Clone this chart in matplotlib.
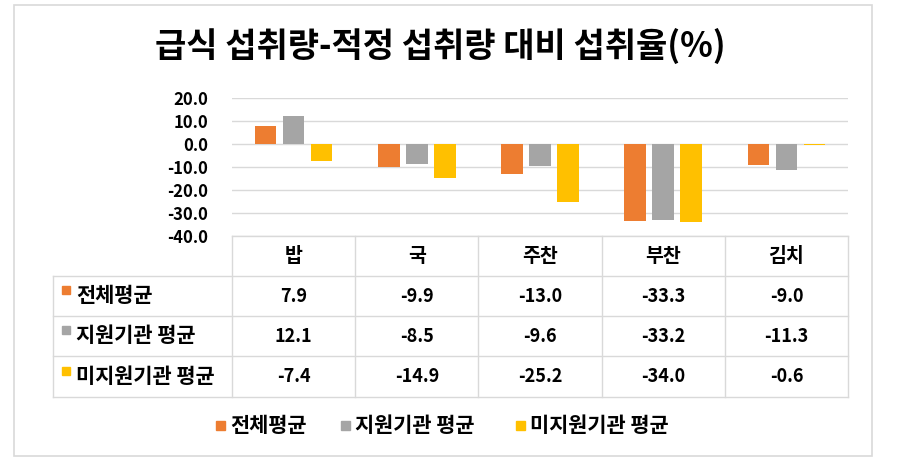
import matplotlib.pyplot as plt
from matplotlib.patches import Rectangle
from matplotlib.lines import Line2D
import numpy as np

plt.rcParams['font.family'] = ['Noto Sans CJK KR', 'DejaVu Sans']

# 데이터
title = "급식 섭취량-적정 섭취량 대비 섭취율(%)"
categories = ["밥", "국", "주찬", "부찬", "김치"]
series_names = ["전체평균", "지원기관 평균", "미지원기관 평균"]
total_avg = [7.9, -9.9, -13.0, -33.3, -9.0]
support_avg = [12.1, -8.5, -9.6, -33.2, -11.3]
nonsupport_avg = [-7.4, -14.9, -25.2, -34.0, -0.6]
colors = ["#ED7D31", "#A5A5A5", "#FFC000"]
yticks = [20, 10, 0, -10, -20, -30, -40]

series = [total_avg, support_avg, nonsupport_avg]

W, H = 897, 471
fig = plt.figure(figsize=(W / 100, H / 100), dpi=100)

def fx(px):
    return px / W

def fy(py):
    return 1 - py / H

# 바깥 테두리
fig.patches.append(Rectangle((fx(14), fy(456)), fx(858), (456 - 5) / H,
                             transform=fig.transFigure, fill=False,
                             edgecolor="#D9D9D9", linewidth=1.2))

fig.text(fx(440), fy(46), title, ha="center", va="center",
         fontsize=24.5, fontweight="bold", color="#000000")

# 막대 그래프
x0, x1 = 232, 848
ytop, ybot = 98, 236
ax = fig.add_axes([fx(x0), fy(ybot), (x1 - x0) / W, (ybot - ytop) / H])
x = np.arange(len(categories))
step = 0.227
bw = 0.176
for i, (vals, c) in enumerate(zip(series, colors)):
    ax.bar(x + (i - 1) * step, vals, width=bw, color=c, zorder=3)
ax.set_xlim(-0.5, len(categories) - 0.5)
ax.set_ylim(-40, 20)
ax.set_yticks(yticks)
ax.set_yticklabels([f"{v:.1f}" for v in yticks], fontsize=12, fontweight="bold")
ax.set_xticks([])
ax.tick_params(axis="y", length=0, pad=17)
for s in ax.spines.values():
    s.set_visible(False)
ax.grid(axis="y", color="#D9D9D9", linewidth=1.0, zorder=0)

# 데이터 표
tl = 53
row_top = [236, 276, 316, 356, 397]
colw = (x1 - x0) / len(categories)
lc = "#D9D9D9"
lw = 1.0

def hline(py, xa, xb):
    fig.add_artist(Line2D([fx(xa), fx(xb)], [fy(py), fy(py)], color=lc, linewidth=lw))

def vline(px, ya, yb):
    fig.add_artist(Line2D([fx(px), fx(px)], [fy(ya), fy(yb)], color=lc, linewidth=lw))

hline(row_top[0], x0, x1)
for py in row_top[1:]:
    hline(py, tl, x1)
vline(tl, row_top[1], row_top[-1])
for j in range(len(categories) + 1):
    vline(x0 + j * colw, row_top[0], row_top[-1])

for j, cat in enumerate(categories):
    cx = x0 + (j + 0.5) * colw
    fig.text(fx(cx), fy((row_top[0] + row_top[1]) / 2), cat, ha="center", va="center",
             fontsize=14, fontweight="bold")
    for i, vals in enumerate(series):
        cy = (row_top[i + 1] + row_top[i + 2]) / 2
        fig.text(fx(cx), fy(cy), f"{vals[j]:.1f}", ha="center", va="center",
                 fontsize=13, fontweight="bold")

for i, (name, c) in enumerate(zip(series_names, colors)):
    cy = (row_top[i + 1] + row_top[i + 2]) / 2
    fig.patches.append(Rectangle((fx(62), fy(cy - 2)), fx(8), 8 / H,
                                 transform=fig.transFigure, color=c))
    fig.text(fx(76), fy(cy), name, ha="left", va="center",
             fontsize=15, fontweight="bold")

# 범례
legend_x = [216, 341, 516]
for lx, name, c in zip(legend_x, series_names, colors):
    fig.patches.append(Rectangle((fx(lx), fy(430)), fx(9), 9 / H,
                                 transform=fig.transFigure, color=c))
    fig.text(fx(lx + 14), fy(425), name, ha="left", va="center",
             fontsize=15, fontweight="bold")

fig.savefig("out.png", dpi=100)
